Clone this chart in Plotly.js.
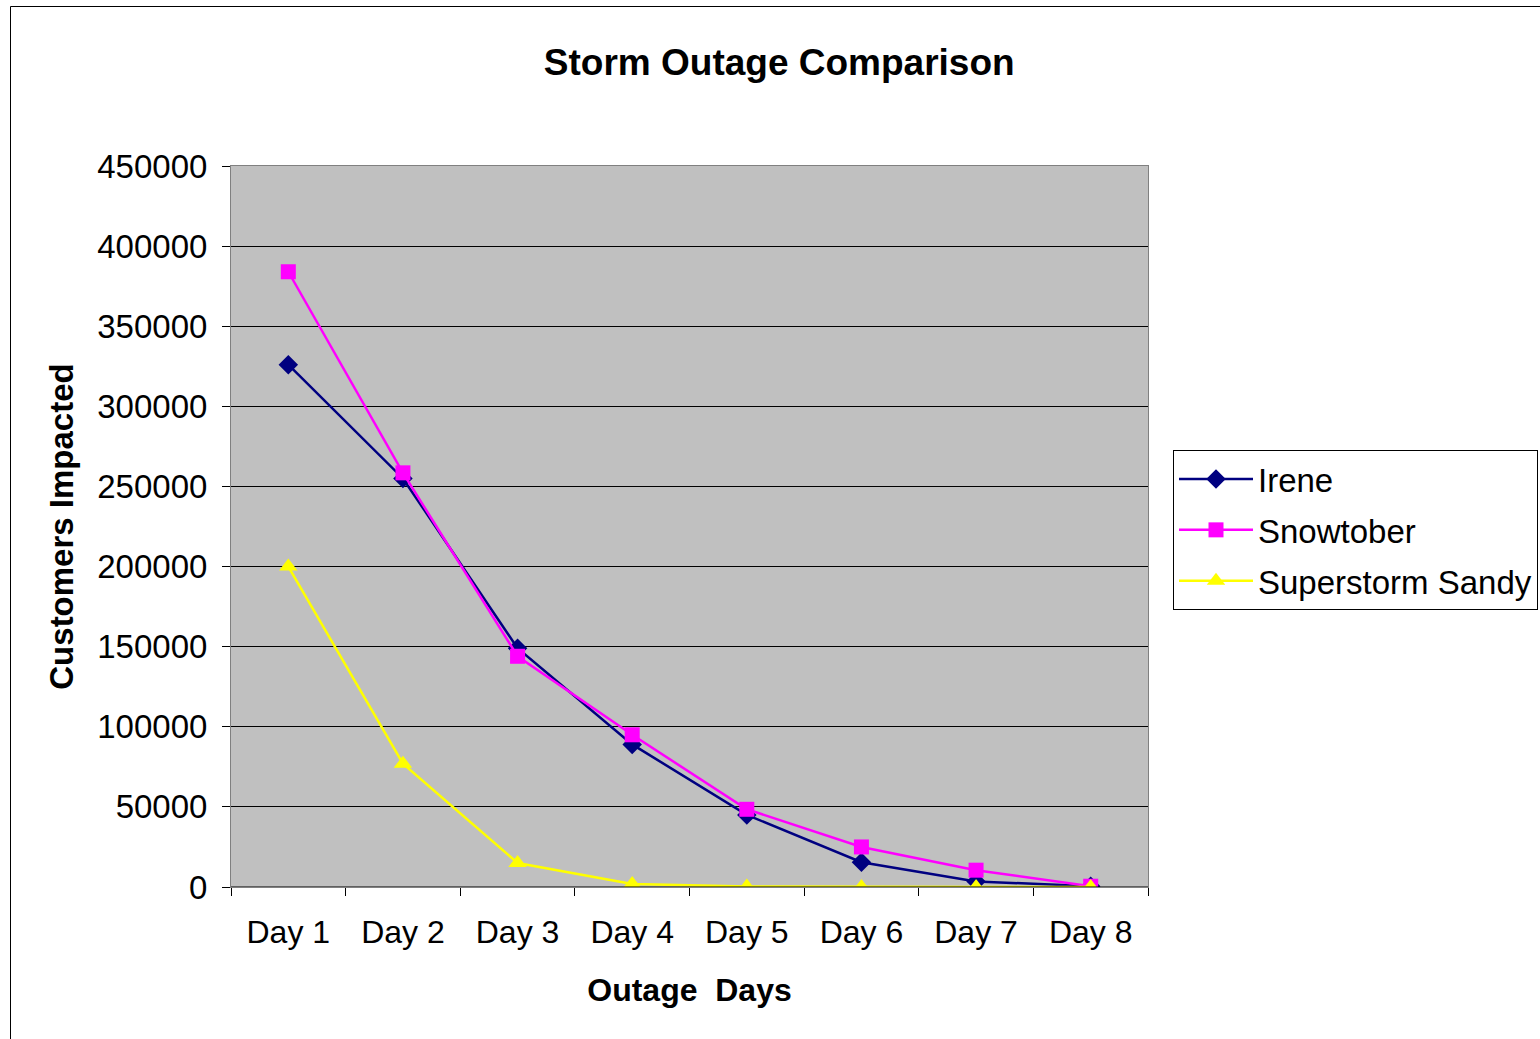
<!DOCTYPE html>
<html>
<head>
<meta charset="utf-8">
<script src="https://cdn.plot.ly/plotly-3.0.1.min.js"></script>
<style>html,body{margin:0;padding:0;background:#fff;}#chart{width:1540px;height:1039px;}</style>
</head>
<body>
<div id="chart"></div>
<script>
var days = ["Day 1", "Day 2", "Day 3", "Day 4", "Day 5", "Day 6", "Day 7", "Day 8"];
var irene = [326000, 255000, 149000, 89000, 45000, 15500, 3500, 500];
var snowtober = [384000, 258500, 144000, 95000, 48500, 25000, 10500, 500];
var sandy = [200000, 77000, 15000, 1900, 300, 0, 0, 0];
var yTicks = [0, 50000, 100000, 150000, 200000, 250000, 300000, 350000, 400000, 450000];

var F = '"Liberation Sans", Arial, sans-serif';

var traces = [
  {name: "Irene", legendgroup: "a", x: days, y: irene, type: "scatter", mode: "lines+markers",
   line: {color: "#000080", width: 2.5}, marker: {symbol: "diamond", size: 15, color: "#000080"}},
  {name: "Snowtober", legendgroup: "b", x: days, y: snowtober, type: "scatter", mode: "lines+markers",
   line: {color: "#FF00FF", width: 2.5}, marker: {symbol: "square", size: 15, color: "#FF00FF"}},
  {name: "Superstorm Sandy", legendgroup: "c", x: days, y: sandy, type: "scatter", mode: "lines+markers",
   line: {color: "#FFFF00", width: 2.5}, marker: {symbol: "triangle-up", size: 16, color: "#FFFF00"}}
];

var layout = {
  width: 1540, height: 1039,
  margin: {l: 231, r: 392, t: 166, b: 152, autoexpand: false},
  paper_bgcolor: "#ffffff",
  plot_bgcolor: "#C0C0C0",
  font: {family: F, size: 33, color: "#000"},
  title: {text: "<b>Storm Outage Comparison</b>", font: {family: F, size: 37, color: "#000"},
          x: 0.506, xref: "container", xanchor: "center", y: 1 - 62/1039, yref: "container", yanchor: "middle"},
  xaxis: {
    type: "category", range: [-0.5, 7.5],
    tickson: "boundaries", ticks: "outside", ticklen: 8, tickcolor: "#000", tickwidth: 1,
    ticklabelstandoff: 17,
    showgrid: false, showline: true, linecolor: "#808080", linewidth: 1, mirror: true,
    tickfont: {family: F, size: 32},
    title: {text: "<b>Outage  Days</b>", font: {family: F, size: 32}, standoff: 29},
    fixedrange: true
  },
  yaxis: {
    range: [0, 450000], tickvals: yTicks, tickformat: "d",
    ticks: "outside", ticklen: 8, tickcolor: "#000", tickwidth: 1,
    ticklabelstandoff: 8,
    showgrid: true, gridcolor: "#000", gridwidth: 1,
    zeroline: false,
    showline: true, linecolor: "#808080", linewidth: 1, mirror: true,
    tickfont: {family: F, size: 33},
    title: {text: "<b>Customers Impacted</b>", font: {family: F, size: 33}, standoff: 13},
    fixedrange: true
  },
  legend: {
    x: (1173-231)/917, y: (887-450)/721, xanchor: "left", yanchor: "top",
    bordercolor: "#000", borderwidth: 1, bgcolor: "#fff",
    font: {family: F, size: 33},
    itemwidth: 74, traceorder: "grouped", tracegroupgap: 5
  },
  shapes: [
    {type: "rect", xref: "paper", yref: "paper",
     x0: (10.5-231)/917, x1: (1560-231)/917, y0: (887-1060)/721, y1: (887-6.5)/721,
     line: {color: "#000", width: 1}, fillcolor: "rgba(0,0,0,0)", layer: "below"},
    {type: "line", xref: "paper", yref: "y", x0: 0, x1: 1, y0: 0, y1: 0,
     line: {color: "#000", width: 1}}
  ],
  showlegend: true
};

Plotly.newPlot("chart", traces, layout, {displayModeBar: false, staticPlot: true});
</script>
</body>
</html>
